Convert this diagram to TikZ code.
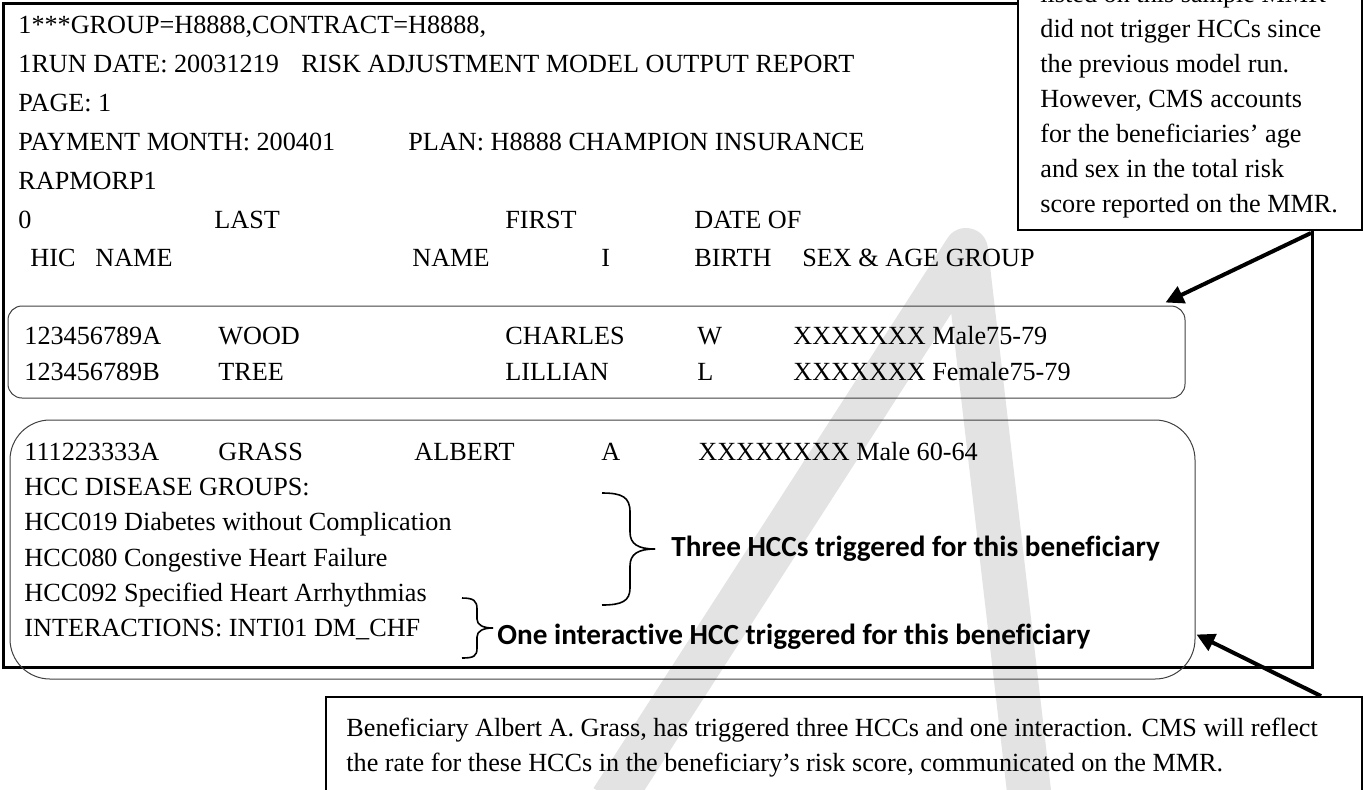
\documentclass[tikz,border=0pt]{standalone}
\usepackage{fontspec}
\setmainfont{Liberation Serif}[Ligatures={TeX,NoCommon}]
\newfontfamily\notefont{Carlito}[Ligatures=NoCommon]
\usetikzlibrary{arrows.meta,calc,fit}

\tikzset{
  row/.style={anchor=base west, inner sep=0pt, font=\fontsize{13.1}{13.1}\selectfont},
  hcc/.style={anchor=west, inner sep=0pt, font=\notefont\bfseries\fontsize{14.6}{14.6}\selectfont},
  rbox/.style={draw=black!75, line width=0.5pt, inner sep=0pt},
  notebox/.style={draw, line width=1pt, inner sep=0pt},
  bigarrow/.style={line width=2pt, -{Triangle[length=9pt,width=9pt]}},
  brace/.style={line width=0.8pt}
}

\begin{document}
\begin{tikzpicture}[x=0.5pt,y=0.5pt]
\useasboundingbox (0,0) rectangle (1364,-789);
\clip (0,0) rectangle (1364,-789);

% watermark
\draw[black!11, line width=22pt, line join=round] (612,-800) -- (966,-250) -- (1030,-800);

% report frame
\draw[line width=1.5pt] (3,-3) rectangle (1312,-667);

% report header
\node[row] (h1) at (18,-33) {1***GROUP=H8888,CONTRACT=H8888,};
\node[row] (h2) at (18,-72) {1RUN DATE: 20031219};
\node[row] (h2b) at (301,-72) {RISK ADJUSTMENT MODEL OUTPUT REPORT};
\node[row] (h3) at (18,-111) {PAGE: 1};
\node[row] (h4) at (18,-150) {PAYMENT MONTH: 200401};
\node[row] (h4b) at (408,-150) {PLAN: H8888 CHAMPION INSURANCE};
\node[row] (h5) at (18,-189) {RAPMORP1};
\node[row] (h6a) at (18,-228) {0};
\node[row] (h6b) at (214,-228) {LAST};
\node[row] (h6c) at (505,-228) {FIRST};
\node[row] (h6d) at (694,-228) {DATE OF};
\node[row] (h7a) at (30,-266) {HIC};
\node[row] (h7b) at (95,-266) {NAME};
\node[row] (h7c) at (412,-266) {NAME};
\node[row] (h7d) at (601,-266) {I};
\node[row] (h7e) at (694,-266) {BIRTH};
\node[row] (h7f) at (802,-266) {SEX \& AGE GROUP};

% beneficiaries without HCCs
\node[rbox, rounded corners=7pt, fit={(8,-306) (1185,-398)}] (box1) {};
\node[row] (w1) at (24,-344) {123456789A};
\node[row] (w2) at (218,-344) {WOOD};
\node[row] (w3) at (505,-344) {CHARLES};
\node[row] (w4) at (697,-344) {W};
\node[row] (w5) at (793,-344) {XXXXXXX Male75-79};
\node[row] (t1) at (24,-380) {123456789B};
\node[row] (t2) at (218,-380) {TREE};
\node[row] (t3) at (505,-380) {LILLIAN};
\node[row] (t4) at (697,-380) {L};
\node[row] (t5) at (793,-380) {XXXXXXX Female75-79};

% beneficiary with HCCs
\node[rbox, rounded corners=20pt, fit={(10,-420) (1195,-679)}] (box2) {};
\node[row] (g1) at (24,-460) {111223333A};
\node[row] (g2) at (218,-460) {GRASS};
\node[row] (g3) at (414,-460) {ALBERT};
\node[row] (g4) at (601,-460) {A};
\node[row] (g5) at (698,-460) {XXXXXXXX Male 60-64};
\node[row] (d1) at (24,-495) {HCC DISEASE GROUPS:};
\node[row] (d2) at (24,-530) {HCC019 Diabetes without Complication};
\node[row] (d3) at (24,-566) {HCC080 Congestive Heart Failure};
\node[row] (d4) at (24,-601) {HCC092 Specified Heart Arrhythmias};
\node[row] (d5) at (24,-636) {INTERACTIONS: INTI01 DM\_CHF};

% braces
\draw[brace] (602,-493) .. controls (622,-493) and (630,-497) .. (630,-512) -- (630,-532)
  .. controls (630,-544) and (638,-549) .. (655,-549);
\draw[brace] (655,-549) .. controls (638,-549) and (630,-554) .. (630,-566) -- (630,-588)
  .. controls (630,-601) and (622,-605) .. (602,-605);
\draw[brace] (462,-598) .. controls (474,-598) and (477,-601) .. (477,-609) -- (477,-619)
  .. controls (477,-625) and (483,-628) .. (493,-628);
\draw[brace] (493,-628) .. controls (483,-628) and (477,-631) .. (477,-637) -- (477,-648)
  .. controls (477,-656) and (474,-658) .. (462,-658);
\node[hcc] (three) at (671,-549) {Three HCCs triggered for this beneficiary};
\node[hcc] (one) at (497,-637) {One interactive HCC triggered for this beneficiary};

% callouts
\node[notebox, fill=white, fit={(1018,20) (1362,-230)}] (topnote) {};
\node[row] (n1) at (1040,-2) {listed on this sample MMR};
\node[row] (n2) at (1040,-37) {did not trigger HCCs since};
\node[row] (n3) at (1040,-72) {the previous model run.};
\node[row] (n4) at (1040,-107) {However, CMS accounts};
\node[row] (n5) at (1040,-142) {for the beneficiaries' age};
\node[row] (n6) at (1040,-177) {and sex in the total risk};
\node[row] (n7) at (1040,-212) {score reported on the MMR.};

\node[notebox, fit={(326,-697) (1362,-800)}] (botnote) {};
\node[row] (b1) at (346,-736) {Beneficiary Albert A. Grass, has triggered three HCCs and one interaction. CMS will reflect};
\node[row] (b2) at (346,-771) {the rate for these HCCs in the beneficiary's risk score, communicated on the MMR.};

% arrows
\draw[bigarrow] ($(topnote.south east)+(-52,-2)$) -- ($(box1.north east)+(-20,3)$);
\draw[bigarrow] ($(botnote.north east)+(-42,0)$) -- ($(box2.east)+(1,-85)$);
\end{tikzpicture}
\end{document}
